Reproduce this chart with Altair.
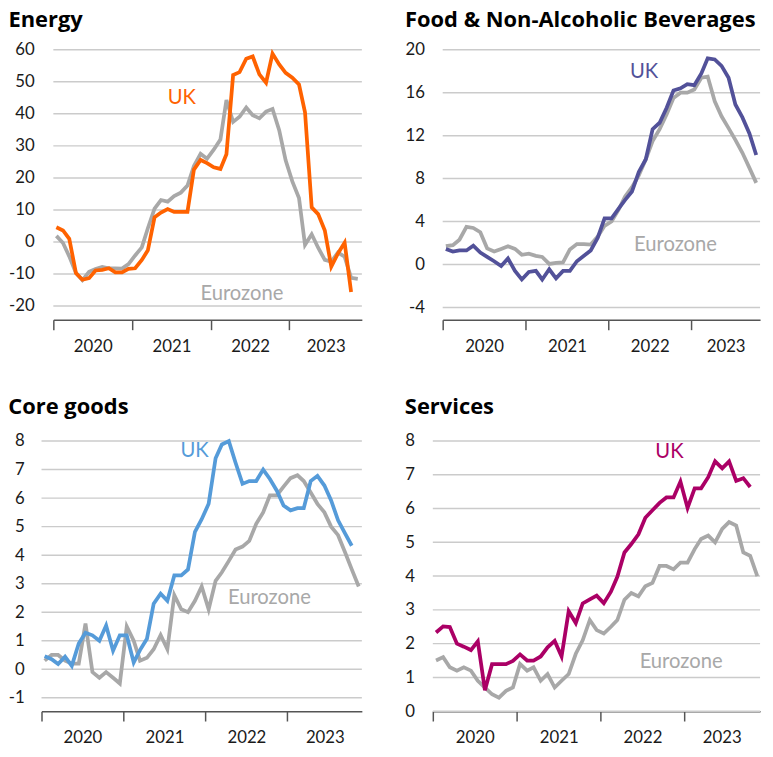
import altair as alt
import pandas as pd

FONT = "Lato"
TITLE_FONT = "Open Sans"
GREY = "#a8a8a8"
GRID = "#cbcbcb"
AXIS = "#555555"
TEXT = "#1a1a1a"

YEARS = [2020, 2021, 2022, 2023]

# Monthly, y/y %, starting Jan 2020
energy_uk = [4.6, 3.6, 1.0, -9.7, -11.8, -11.3, -8.9, -8.7, -8.2, -9.5,
             -9.5, -8.4, -8.2, -5.6, -2.6, 7.7, 9.2, 10.3, 9.4, 9.4,
             9.4, 22.6, 25.6, 24.6, 23.3, 22.8, 27.4, 52.1, 53.0, 57.2,
             57.9, 52.3, 49.7, 58.8, 55.4, 52.8, 51.3, 49.2, 40.5, 10.8,
             8.7, 3.6, -7.7, -3.6, -0.2, -15.6]
energy_ez = [1.9, -0.3, -4.5, -9.7, -11.9, -9.3, -8.4, -7.8, -8.2, -8.2, -8.3, -6.9,
             -4.2, -1.7, 4.3, 10.4, 13.1, 12.6, 14.3, 15.4, 17.6, 23.7, 27.5, 26.0,
             28.8, 32.0, 44.3, 37.5, 39.1, 42.0, 39.6, 38.6, 40.7, 41.5, 34.9, 25.5,
             18.9, 13.7, -0.9, 2.4, -1.8, -5.6, -6.1, -3.3, -4.6, -11.2, -11.5]

food_uk = [1.45, 1.2, 1.3, 1.3, 1.75, 1.1, 0.7, 0.3, -0.15, 0.55,
           -0.6, -1.4, -0.7, -0.6, -1.4, -0.45, -1.3, -0.6, -0.6, 0.3,
           0.8, 1.3, 2.5, 4.3, 4.3, 5.2, 6.0, 6.8, 8.6, 9.8,
           12.6, 13.2, 14.6, 16.2, 16.4, 16.8, 16.7, 17.8, 19.2, 19.1,
           18.5, 17.4, 14.9, 13.7, 12.2, 10.2]
food_ez = [1.7, 1.8, 2.3, 3.5, 3.4, 3.0, 1.5, 1.2, 1.45, 1.7,
           1.45, 0.9, 1.0, 0.8, 0.7, 0.05, 0.15, 0.2, 1.4, 1.9,
           1.9, 1.85, 2.6, 3.6, 4.0, 5.1, 6.3, 7.2, 8.3, 9.8,
           11.5, 12.6, 14.0, 15.5, 16.0, 16.0, 16.3, 17.4, 17.5, 15.2,
           13.8, 12.7, 11.6, 10.4, 9.0, 7.6]

core_uk = [0.46, 0.35, 0.18, 0.44, 0.12, 0.9, 1.28, 1.19, 1.0, 1.53,
           0.65, 1.19, 1.19, 0.24, 0.67, 1.07, 2.3, 2.65, 2.4, 3.29,
           3.29, 3.5, 4.82, 5.26, 5.8, 7.4, 7.88, 8.0, 7.24, 6.5,
           6.6, 6.6, 7.0, 6.67, 6.26, 5.74, 5.57, 5.65, 5.65, 6.6,
           6.78, 6.44, 5.92, 5.22, 4.76, 4.33]
core_ez = [0.3, 0.5, 0.5, 0.3, 0.2, 0.2, 1.6, -0.1, -0.3, -0.1, -0.3, -0.5,
           1.5, 1.0, 0.3, 0.4, 0.7, 1.2, 0.7, 2.6, 2.1, 2.0, 2.4, 2.9,
           2.1, 3.1, 3.4, 3.8, 4.2, 4.3, 4.5, 5.1, 5.5, 6.1, 6.1, 6.4,
           6.7, 6.8, 6.6, 6.2, 5.8, 5.5, 5.0, 4.7, 4.1, 3.5, 2.9]

serv_uk = [2.33, 2.51, 2.49, 2.0, 1.91, 1.81, 2.07, 0.62, 1.39, 1.39,
           1.39, 1.49, 1.68, 1.5, 1.5, 1.62, 1.89, 2.08, 1.62, 2.96,
           2.61, 3.19, 3.31, 3.42, 3.2, 3.54, 3.98, 4.7, 4.95, 5.24,
           5.73, 5.95, 6.17, 6.33, 6.33, 6.8, 6.02, 6.6, 6.6, 6.93,
           7.4, 7.19, 7.4, 6.82, 6.9, 6.64]
serv_ez = [1.5, 1.6, 1.3, 1.2, 1.3, 1.2, 0.9, 0.7, 0.5, 0.4, 0.6, 0.7,
           1.4, 1.2, 1.3, 0.9, 1.1, 0.7, 0.9, 1.1, 1.7, 2.1, 2.7, 2.4,
           2.3, 2.5, 2.7, 3.3, 3.5, 3.4, 3.7, 3.8, 4.3, 4.3, 4.2, 4.4,
           4.4, 4.8, 5.1, 5.2, 5.0, 5.4, 5.6, 5.5, 4.7, 4.6, 4.0]

# series label anchors (date, value)
energy_labels = [("2021-08-20", 45.0), ("2022-05-26", -16.4)]
food_labels = [("2022-06-07", 17.9), ("2022-10-24", 1.8)]
core_labels = [("2021-11-13", 7.65), ("2022-10-13", 2.5)]
serv_labels = [("2022-10-28", 7.68), ("2022-12-18", 1.46)]

START = "2020-01-01"


def month_dates(n):
    return [f"{2020 + i // 12}-{i % 12 + 1:02d}-15" for i in range(n)]


def panel(title, uk, ez, color, yvals, ydom, width, height, xrange, xend,
          labpad, labels, loff, loff_last, toff):
    end = f"{xend[0]}-{xend[1]:02d}-{xend[2]:02d}"
    x_scale = alt.Scale(type="utc", range=xrange, domain=[
        alt.DateTime(year=2020, month=1, date=1, utc=True),
        alt.DateTime(year=xend[0], month=xend[1], date=xend[2], utc=True)])
    x_axis = alt.Axis(
        values=[alt.DateTime(year=y, month=1, date=1, utc=True) for y in YEARS],
        labelExpr="utcFormat(datum.value, '%Y')",
        labelOffset={"condition": {"test": "utcyear(datum.value) == 2023",
                                   "value": loff_last}, "value": loff},
        labelAlign="center", labelFlush=False, labelOverlap=False,
        labelBound=False,
        tickSize=10, tickColor=AXIS, tickWidth=1.5, domainColor=AXIS,
        domainWidth=1.5, grid=False, title=None, labelFont=FONT,
        labelFontSize=17, labelColor=TEXT, labelPadding=9)
    y_scale = alt.Scale(domain=ydom, nice=False, zero=False)
    y_axis = alt.Axis(values=yvals, grid=False,
                      domain=False, ticks=False, labelPadding=labpad,
                      labelOverlap=False, labelFlush=False, labelBound=False,
                      labelExpr="(datum.value < 0 ? '-' : '') + abs(datum.value)",
                      title=None, labelFont=FONT,
                      labelFontSize=17, labelColor=TEXT)
    X = alt.X("date:T", scale=x_scale, axis=x_axis)
    Y = alt.Y("value:Q", scale=y_scale, axis=y_axis)
    df_grid = pd.DataFrame({"value": yvals, "date": [START] * len(yvals),
                            "date2": [end] * len(yvals)})
    grid = alt.Chart(df_grid).mark_rule(color=GRID, strokeWidth=1.5).encode(
        x=X, x2="date2:T", y=Y)
    df_ez = pd.DataFrame({"date": month_dates(len(ez)), "value": ez})
    df_uk = pd.DataFrame({"date": month_dates(len(uk)), "value": uk})
    ez_line = alt.Chart(df_ez).mark_line(strokeWidth=3.8, color=GREY).encode(
        x=X, y=Y)
    uk_line = alt.Chart(df_uk).mark_line(strokeWidth=3.8, color=color).encode(
        x=X, y=Y)
    texts = []
    for (d, v), name, c in zip(labels, ["UK", "Eurozone"], [color, GREY]):
        dfl = pd.DataFrame({"date": [d], "value": [v], "label": [name]})
        texts.append(alt.Chart(dfl).mark_text(
            font=FONT, fontSize=20.5, color=c, align="center",
            baseline="middle").encode(x=X, y=Y, text="label:N"))
    return alt.layer(grid, ez_line, uk_line, *texts).properties(
        width=width, height=height,
        title=alt.TitleParams(title, anchor="start", frame="bounds",
                              fontSize=22.2, font=TITLE_FONT, fontWeight="bold",
                              color="#000000", offset=toff))


energy = panel("Energy", energy_uk, energy_ez, "#ff6200",
               [-20, -10, 0, 10, 20, 30, 40, 50, 60], [-24.3, 60],
               325, 274, [12, 325], (2023, 12, 4), 7.5, energy_labels,
               40, 37, 10)
food = panel("Food & Non-Alcoholic Beverages", food_uk, food_ez, "#525199",
             [-4, 0, 4, 8, 12, 16, 20], [-5.16, 20],
             332, 274, [10, 332], (2023, 11, 1), 8.5, food_labels,
             42, 35, 10)
core = panel("Core goods", core_uk, core_ez, "#559bd9",
             [-1, 0, 1, 2, 3, 4, 5, 6, 7, 8], [-1.47, 8],
             325, 274, [0, 325], (2023, 11, 29), 17.5, core_labels,
             41.5, 38, 14)
serv = panel("Services", serv_uk, serv_ez, "#ab0066",
             [0, 1, 2, 3, 4, 5, 6, 7, 8], [0, 8],
             332, 274, [0, 332], (2023, 11, 27), 18.5, serv_labels,
             42.5, 38, 14)

chart = alt.concat(
    energy, food, core, serv, columns=2,
    spacing={"row": 42, "column": 38},
).properties(
    padding={"left": 0, "top": -5, "right": 0, "bottom": -4}
).configure_view(stroke=None).configure_axis(labelOverlap=False)

chart.save("out.html", embed_options={"renderer": "svg", "actions": False})
